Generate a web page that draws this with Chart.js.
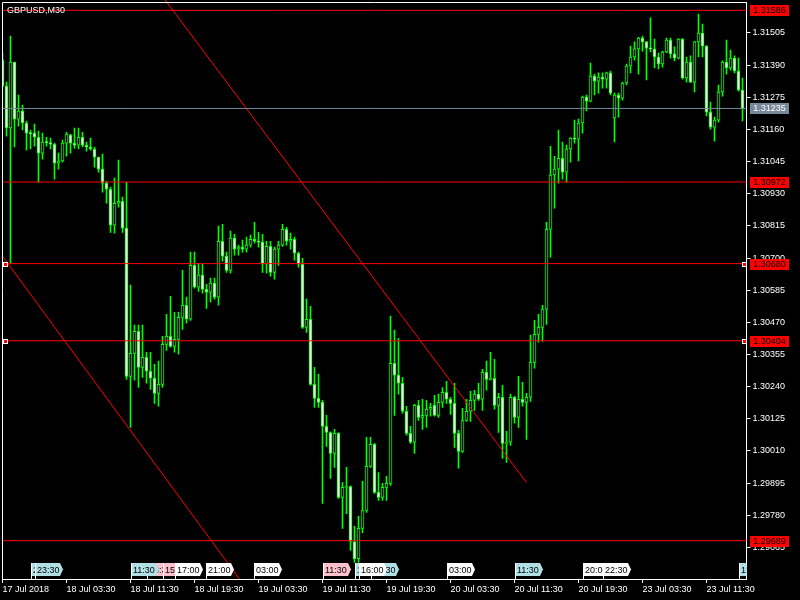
<!DOCTYPE html>
<html>
<head>
<meta charset="utf-8">
<script src="https://cdn.jsdelivr.net/npm/chart.js@4.4.0/dist/chart.umd.min.js"></script>
<style>
html, body { margin: 0; padding: 0; background: #000; }
canvas { display: block; }
</style>
</head>
<body>
<canvas id="chart" width="800" height="600"></canvas>
<script>
// GBPUSD M30 bars
var opens = [1.31408,1.31315,1.31165,1.31401,1.31197,1.31226,1.31183,1.31147,1.31147,1.31132,1.31075,1.31115,1.31113,1.31107,1.31039,1.31047,1.31111,1.31140,1.31111,1.31104,
1.31132,1.31104,1.31097,1.31090,1.31061,1.31018,1.30968,1.30946,1.30818,1.30896,1.30903,1.30807,1.30277,1.30359,1.30438,1.30309,1.30345,1.30295,1.30270,1.30216,
1.30248,1.30391,1.30420,1.30384,1.30409,1.30488,1.30531,1.30481,1.30674,1.30596,1.30639,1.30588,1.30578,1.30610,1.30560,1.30760,1.30707,1.30656,1.30771,1.30732,
1.30739,1.30732,1.30746,1.30767,1.30760,1.30757,1.30678,1.30742,1.30649,1.30732,1.30746,1.30803,1.30760,1.30767,1.30717,1.30678,1.30452,1.30481,1.30248,1.30198,
1.30184,1.30098,1.30076,1.30001,1.30073,1.29844,1.29880,1.29883,1.29686,1.29625,1.29733,1.29797,1.29955,1.30034,1.29862,1.29844,1.29880,1.29894,1.30323,1.30281,
1.30252,1.30152,1.30073,1.30041,1.30173,1.30130,1.30137,1.30159,1.30173,1.30137,1.30184,1.30220,1.30195,1.30180,1.30073,1.30008,1.30119,1.30152,1.30191,1.30213,
1.30195,1.30291,1.30266,1.30270,1.30173,1.30202,1.30037,1.30041,1.30202,1.30130,1.30195,1.30184,1.30202,1.30327,1.30427,1.30452,1.30517,1.30803,1.30997,1.31018,
1.31057,1.31007,1.31090,1.31129,1.31125,1.31183,1.31276,1.31261,1.31351,1.31333,1.31347,1.31340,1.31362,1.31201,1.31283,1.31272,1.31326,1.31387,1.31419,1.31448,
1.31487,1.31473,1.31451,1.31448,1.31419,1.31394,1.31437,1.31480,1.31430,1.31415,1.31483,1.31344,1.31401,1.31329,1.31473,1.31505,1.31458,1.31222,1.31168,1.31193,
1.31294,1.31401,1.31380,1.31415,1.31369,1.31301];
var highs = [1.31433,1.31329,1.31494,1.31401,1.31283,1.31247,1.31190,1.31158,1.31179,1.31154,1.31147,1.31132,1.31129,1.31111,1.31075,1.31122,1.31150,1.31143,1.31165,1.31165,
1.31150,1.31115,1.31129,1.31097,1.31061,1.31072,1.30975,1.30954,1.30986,1.31050,1.30918,1.30971,1.30603,1.30460,1.30460,1.30460,1.30363,1.30363,1.30320,1.30331,
1.30420,1.30499,1.30563,1.30506,1.30506,1.30656,1.30560,1.30721,1.30721,1.30681,1.30681,1.30606,1.30628,1.30628,1.30814,1.30821,1.30721,1.30796,1.30785,1.30746,
1.30764,1.30775,1.30782,1.30828,1.30792,1.30785,1.30760,1.30760,1.30739,1.30760,1.30821,1.30810,1.30789,1.30775,1.30721,1.30699,1.30553,1.30527,1.30309,1.30284,
1.30191,1.30137,1.30078,1.30087,1.30076,1.29897,1.29951,1.29885,1.29740,1.29776,1.29901,1.30059,1.30059,1.30037,1.29933,1.29894,1.29919,1.30492,1.30442,1.30413,
1.30273,1.30170,1.30098,1.30177,1.30191,1.30195,1.30191,1.30180,1.30209,1.30213,1.30237,1.30259,1.30202,1.30252,1.30084,1.30162,1.30195,1.30223,1.30227,1.30252,
1.30302,1.30331,1.30363,1.30338,1.30216,1.30245,1.30080,1.30213,1.30205,1.30277,1.30255,1.30216,1.30424,1.30477,1.30499,1.30531,1.30828,1.31100,1.31064,1.31158,
1.31115,1.31104,1.31131,1.31193,1.31197,1.31279,1.31283,1.31397,1.31358,1.31362,1.31362,1.31365,1.31369,1.31290,1.31290,1.31329,1.31394,1.31458,1.31473,1.31489,
1.31494,1.31475,1.31559,1.31483,1.31433,1.31440,1.31487,1.31487,1.31455,1.31485,1.31485,1.31419,1.31423,1.31475,1.31573,1.31537,1.31460,1.31258,1.31204,1.31319,
1.31405,1.31480,1.31444,1.31423,1.31415,1.31344];
var lows = [1.31312,1.31136,1.30681,1.31097,1.31172,1.31158,1.31086,1.31090,1.31100,1.30971,1.31054,1.31100,1.31090,1.30982,1.31018,1.31043,1.31064,1.31075,1.31093,1.31090,
1.31097,1.31082,1.31086,1.31025,1.31007,1.30936,1.30896,1.30792,1.30789,1.30882,1.30792,1.30266,1.30094,1.30263,1.30237,1.30273,1.30252,1.30230,1.30180,1.30170,
1.30237,1.30370,1.30381,1.30363,1.30356,1.30445,1.30467,1.30477,1.30592,1.30581,1.30574,1.30520,1.30542,1.30553,1.30531,1.30689,1.30649,1.30646,1.30710,1.30710,
1.30721,1.30721,1.30739,1.30753,1.30739,1.30649,1.30646,1.30635,1.30624,1.30674,1.30742,1.30746,1.30732,1.30692,1.30667,1.30448,1.30434,1.30245,1.30166,1.30166,
1.29822,1.30026,1.29912,1.29951,1.29840,1.29733,1.29786,1.29654,1.29611,1.29611,1.29718,1.29790,1.29951,1.29858,1.29833,1.29833,1.29833,1.29887,1.30137,1.30213,
1.30145,1.30066,1.30037,1.30001,1.30119,1.30087,1.30094,1.30134,1.30134,1.30130,1.30166,1.30180,1.30141,1.30023,1.29948,1.30005,1.30116,1.30116,1.30155,1.30191,
1.30155,1.30227,1.30263,1.30159,1.30076,1.29983,1.29969,1.30030,1.30109,1.30094,1.30170,1.30051,1.30187,1.30306,1.30399,1.30402,1.30463,1.30703,1.30878,1.30968,
1.30982,1.30971,1.31043,1.31111,1.31047,1.31147,1.31226,1.31258,1.31283,1.31290,1.31308,1.31308,1.31283,1.31115,1.31204,1.31265,1.31319,1.31362,1.31408,1.31358,
1.31440,1.31337,1.31437,1.31380,1.31376,1.31383,1.31435,1.31415,1.31405,1.31412,1.31340,1.31329,1.31327,1.31294,1.31419,1.31419,1.31208,1.31161,1.31118,1.31186,
1.31279,1.31358,1.31372,1.31362,1.31297,1.31190];
var closes = [1.31315,1.31165,1.31401,1.31197,1.31226,1.31183,1.31147,1.31145,1.31132,1.31075,1.31115,1.31113,1.31107,1.31039,1.31047,1.31111,1.31143,1.31111,1.31104,1.31132,
1.31104,1.31097,1.31090,1.31061,1.31018,1.30968,1.30946,1.30818,1.30896,1.30903,1.30807,1.30277,1.30359,1.30438,1.30309,1.30345,1.30295,1.30270,1.30216,1.30248,
1.30391,1.30420,1.30384,1.30409,1.30488,1.30531,1.30481,1.30674,1.30596,1.30639,1.30588,1.30578,1.30610,1.30560,1.30760,1.30707,1.30656,1.30771,1.30732,1.30739,
1.30732,1.30746,1.30767,1.30760,1.30757,1.30678,1.30742,1.30649,1.30732,1.30746,1.30803,1.30760,1.30767,1.30717,1.30678,1.30452,1.30481,1.30248,1.30198,1.30184,
1.30098,1.30076,1.30001,1.30073,1.29844,1.29880,1.29883,1.29686,1.29625,1.29733,1.29797,1.29955,1.30034,1.29862,1.29844,1.29880,1.29894,1.30323,1.30281,1.30252,
1.30152,1.30073,1.30041,1.30173,1.30130,1.30137,1.30159,1.30166,1.30137,1.30184,1.30220,1.30195,1.30180,1.30073,1.30008,1.30119,1.30152,1.30191,1.30213,1.30195,
1.30291,1.30266,1.30270,1.30173,1.30202,1.30037,1.30041,1.30202,1.30130,1.30195,1.30184,1.30202,1.30327,1.30427,1.30452,1.30517,1.30803,1.30997,1.31018,1.31057,
1.31007,1.31090,1.31129,1.31125,1.31183,1.31276,1.31261,1.31351,1.31333,1.31347,1.31340,1.31362,1.31290,1.31283,1.31272,1.31326,1.31387,1.31419,1.31448,1.31487,
1.31473,1.31451,1.31448,1.31419,1.31394,1.31437,1.31480,1.31430,1.31415,1.31483,1.31344,1.31401,1.31329,1.31473,1.31505,1.31458,1.31222,1.31168,1.31193,1.31294,
1.31401,1.31380,1.31415,1.31369,1.31301,1.31235];

// price axis
var yTicks = [1.31505,1.31390,1.31275,1.31160,1.31045,1.30930,1.30815,1.30700,1.30585,1.30470,1.30355,1.30240,1.30125,1.30010,1.29895,1.29780,1.29665];
var xTickLabels = ['17 Jul 2018','18 Jul 03:30','18 Jul 11:30','18 Jul 19:30','19 Jul 03:30','19 Jul 11:30','19 Jul 19:30','20 Jul 03:30','20 Jul 11:30','20 Jul 19:30','23 Jul 03:30','23 Jul 11:30'];

// horizontal lines and their price tags
var hLinePrices = [1.31586, 1.31235, 1.30972, 1.30680, 1.30404, 1.29689];
var hLineColors = ['#ff0000', '#778899', '#ff0000', '#ff0000', '#ff0000', '#ff0000'];
var selectedLines = [1.30680, 1.30404];

// trend lines: [bar, price] pairs
var trendUpper = [[40, 1.31636], [131, 1.29897]];
var trendLower = [[0, 1.30707], [60, 1.29537]];

// vertical line time tags at the bottom
var tagBars = [7, 8, 36, 32, 40, 43, 51, 63, 80, 88, 92, 89, 111, 128, 145, 150, 184];
var tagColors = ['#b0e0e6','#b0e0e6','#ffc0cb','#b0e0e6','#ffc0cb','#ffffff','#ffffff','#ffffff','#ffc0cb','#b0e0e6','#b0e0e6','#ffffff','#ffffff','#b0e0e6','#ffffff','#ffffff','#b0e0e6'];

// bar times, 30 min, skipping the weekend
var categories = [];
(function() {
    var d = new Date(Date.UTC(2018, 6, 17, 19, 30));
    for (var i = 0; i < 187; i++) {
        var hh = ('0' + d.getUTCHours()).slice(-2);
        var mm = ('0' + d.getUTCMinutes()).slice(-2);
        categories.push(d.getUTCDate() + ' Jul ' + hh + ':' + mm);
        d = new Date(d.getTime() + 30 * 60000);
        if (d.getUTCDay() === 6) d = new Date(Date.UTC(2018, 6, 23, 0, 0));
    }
})();

Chart.defaults.font.family = 'Liberation Sans';
Chart.defaults.font.size = 9;
Chart.defaults.color = '#ffffff';

var wickData = lows.map(function(l, i) { return [l, highs[i]]; });
var bodyData = opens.map(function(o, i) { return [o, closes[i]]; });
var bodyFill = opens.map(function(o, i) { return closes[i] < o ? '#ffffff' : '#000000'; });

var datasets = [];
hLinePrices.forEach(function(p, i) {
    datasets.push({
        type: 'line',
        data: [{x: categories[0], y: p}, {x: categories[186], y: p}],
        borderColor: hLineColors[i],
        borderWidth: 1,
        pointRadius: 0,
        order: 0
    });
});
[trendUpper, trendLower].forEach(function(t, i) {
    datasets.push({
        type: 'line',
        data: t.map(function(p) { return {x: categories[p[0]], y: p[1]}; }),
        borderColor: '#ff0000',
        borderWidth: 1,
        pointRadius: 0,
        order: 0,
        clip: i === 0 ? {left: 0, right: 0, top: false, bottom: 0} : 0
    });
});
datasets.push({
    type: 'bar',
    data: bodyData,
    backgroundColor: bodyFill,
    borderColor: '#00ff00',
    borderWidth: 1,
    borderSkipped: false,
    barThickness: 3,
    minBarLength: 1,
    grouped: false,
    order: 1
});
datasets.push({
    type: 'bar',
    data: wickData,
    backgroundColor: '#00ff00',
    borderWidth: 0,
    barThickness: 1,
    grouped: false,
    order: 2
});

var overlay = {
    id: 'overlay',
    afterDraw: function(chart) {
        var ctx = chart.ctx;
        var a = chart.chartArea;
        var xs = chart.scales.x, ys = chart.scales.y;
        ctx.save();

        // frame left and top
        ctx.strokeStyle = '#ffffff';
        ctx.lineWidth = 1;
        ctx.beginPath();
        ctx.moveTo(a.left, a.bottom);
        ctx.lineTo(a.left, a.top);
        ctx.lineTo(a.right, a.top);
        ctx.stroke();

        // symbol
        ctx.fillStyle = '#ffffff';
        ctx.font = '9px "Liberation Sans"';
        ctx.textBaseline = 'alphabetic';
        ctx.textAlign = 'left';
        ctx.fillText('GBPUSD,M30', 7, 13);

        // price tags on the right
        hLinePrices.forEach(function(p, i) {
            var y = Math.round(ys.getPixelForValue(p));
            ctx.fillStyle = hLineColors[i];
            ctx.fillRect(750, y - 5, 39, 11);
            ctx.fillStyle = hLineColors[i] === '#ff0000' ? '#000000' : '#ffffff';
            ctx.textAlign = 'center';
            ctx.textBaseline = 'middle';
            ctx.fillText(p.toFixed(5), 769.5, y + 1);
        });

        // selection squares
        selectedLines.forEach(function(p) {
            var y = Math.round(ys.getPixelForValue(p));
            [5, 744].forEach(function(x) {
                ctx.fillStyle = '#ffffff';
                ctx.fillRect(x - 2, y - 2, 5, 5);
                ctx.fillStyle = '#ff0000';
                ctx.fillRect(x - 1, y - 1, 3, 3);
            });
        });

        // time tags
        ctx.save();
        ctx.beginPath();
        ctx.rect(0, 0, a.right, 600);
        ctx.clip();
        tagBars.forEach(function(k, i) {
            var x = Math.round(xs.getPixelForValue(k));
            ctx.fillStyle = tagColors[i];
            ctx.beginPath();
            ctx.moveTo(x, 563);
            ctx.lineTo(x + 25, 563);
            ctx.lineTo(x + 28, 569.5);
            ctx.lineTo(x + 25, 576);
            ctx.lineTo(x, 576);
            ctx.closePath();
            ctx.fill();
            ctx.fillStyle = '#ffffff';
            ctx.fillRect(x, 563, 1, a.bottom - 563);
            ctx.fillStyle = '#000000';
            ctx.textAlign = 'left';
            ctx.textBaseline = 'alphabetic';
            ctx.fillText(categories[k].split(' ')[2], x + 2, 573);
        });
        ctx.restore();

        ctx.restore();
    }
};

function noPad(axis) {
    axis.paddingTop = 0;
    axis.paddingBottom = 0;
    axis.paddingLeft = 0;
    axis.paddingRight = 0;
}

new Chart(document.getElementById('chart'), {
    type: 'bar',
    data: { labels: categories, datasets: datasets },
    options: {
        responsive: false,
        animation: false,
        devicePixelRatio: 1,
        layout: { padding: { left: 2.5, top: 2.5, right: 0, bottom: 0 } },
        plugins: { legend: { display: false }, tooltip: { enabled: false } },
        scales: {
            x: {
                offset: false,
                grid: { display: true, drawOnChartArea: false, drawTicks: true, tickLength: 4, color: '#ffffff', offset: false },
                border: { display: true, color: '#ffffff' },
                ticks: {
                    autoSkip: false, maxRotation: 0, minRotation: 0, align: 'start', padding: 1, color: '#ffffff',
                    callback: function(value) { return xTickLabels[value / 16]; }
                },
                afterBuildTicks: function(axis) {
                    axis.ticks = axis.ticks.filter(function(t) { return t.value % 16 === 0 && t.value < 186; });
                },
                afterFit: function(axis) { axis.height = 21; noPad(axis); }
            },
            y: {
                position: 'right',
                min: 1.29552,
                max: 1.31614,
                grid: { display: true, drawOnChartArea: false, drawTicks: true, tickLength: 4, color: '#ffffff' },
                border: { display: true, color: '#ffffff' },
                ticks: {
                    padding: 2, color: '#ffffff',
                    callback: function(v) { return v.toFixed(5); }
                },
                afterBuildTicks: function(axis) {
                    axis.ticks = yTicks.map(function(v) { return { value: v }; });
                },
                afterFit: function(axis) { axis.width = 53.5; noPad(axis); }
            }
        }
    },
    plugins: [overlay]
});
</script>
</body>
</html>
